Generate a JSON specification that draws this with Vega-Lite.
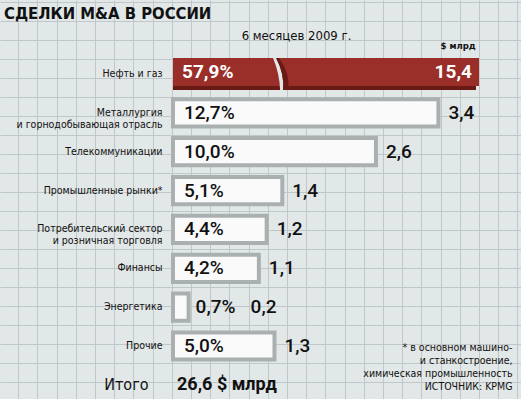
{
  "$schema": "https://vega.github.io/schema/vega-lite/v6.json",
  "width": 521,
  "height": 399,
  "autosize": {"type": "none"},
  "padding": 0,
  "background": "#e2e7e7",
  "title": {
    "text": "СДЕЛКИ M&A В РОССИИ",
    "anchor": "start",
    "frame": "group",
    "orient": "top",
    "offset": 0,
    "dx": 4,
    "dy": 35,
    "baseline": "alphabetic",
    "font": "DejaVu Sans Condensed, sans-serif",
    "fontSize": 16.5,
    "fontWeight": "bold",
    "color": "#111111"
  },
  "config": {
    "view": {"stroke": null},
    "locale": {"number": {"decimal": ",", "thousands": " ", "grouping": [3], "currency": ["", ""]}}
  },
  "datasets": {
    "sectors": [
      {"sector": "Нефть и газ", "pct": 0.579, "val": 15.4},
      {"sector": "Металлургия|и горнодобывающая отрасль", "pct": 0.127, "val": 3.4},
      {"sector": "Телекоммуникации", "pct": 0.100, "val": 2.6},
      {"sector": "Промышленные рынки*", "pct": 0.051, "val": 1.4},
      {"sector": "Потребительский сектор|и розничная торговля", "pct": 0.044, "val": 1.2},
      {"sector": "Финансы", "pct": 0.042, "val": 1.1},
      {"sector": "Энергетика", "pct": 0.007, "val": 0.2},
      {"sector": "Прочие", "pct": 0.050, "val": 1.3}
    ]
  },
  "layer": [
    {
      "data": {"values": [{"gx": 26, "gy": 5}]},
      "mark": {"type": "point", "opacity": 0, "filled": true, "size": 4},
      "encoding": {
        "x": {
          "field": "gx", "type": "quantitative",
          "scale": {"domain": [0.052, 27.187], "nice": false, "zero": false},
          "axis": {
            "orient": "top", "values": [1,2,3,4,5,6,7,8,9,10,11,12,13,14,15,16,17,18,19,20,21,22,23,24,25,26,27],
            "grid": true, "gridColor": "#c0c7ca", "gridWidth": 1, "gridOpacity": 1, "labels": false, "domain": false,
            "ticks": false,
            "title": "6 месяцев 2009 г.", "titleX": 296, "titleY": 39, "titleAlign": "center", "titleBaseline": "alphabetic",
            "titleFont": "DejaVu Sans Condensed, sans-serif", "titleFontSize": 13, "titleFontWeight": "normal", "titleColor": "#111111"
          }
        },
        "y": {
          "field": "gy", "type": "quantitative",
          "scale": {"domain": [-0.105, 20.895], "nice": false, "zero": false, "reverse": true},
          "axis": {
            "orient": "right", "values": [0,1,2,3,4,5,6,7,8,9,10,11,12,13,14,15,16,17,18,19,20],
            "grid": true, "gridColor": "#c0c7ca", "gridWidth": 1, "gridOpacity": 1, "labels": false, "domain": false,
            "ticks": false,
            "title": ["* в основном машино-", "и станкостроение,", "химическая промышленность", "ИСТОЧНИК: KPMG"],
            "titleAngle": 0, "titleX": -9, "titleY": 350, "titleAlign": "right", "titleBaseline": "alphabetic", "titleLineHeight": 13.3,
            "titleFont": "DejaVu Sans Condensed, sans-serif", "titleFontSize": 10.5, "titleFontWeight": "normal", "titleColor": "#111111"
          }
        }
      }
    },
    {
      "data": {"name": "sectors"},
      "encoding": {
        "y": {
          "field": "sector", "type": "nominal", "sort": null,
          "scale": {
            "domain": ["Нефть и газ", "Металлургия|и горнодобывающая отрасль", "Телекоммуникации", "Промышленные рынки*", "Потребительский сектор|и розничная торговля", "Финансы", "Энергетика", "Прочие", "Итого"],
            "range": [54.57, 404.3], "paddingInner": 0.3, "paddingOuter": 0.15
          },
          "axis": {
            "orient": "left", "offset": -165, "domain": false, "ticks": false, "grid": false,
            "labelPadding": {"condition": {"test": "datum.value === 'Итого'", "value": 17}, "value": 3},
            "labelExpr": "split(datum.value, '|')",
            "labelFont": "DejaVu Sans Condensed, sans-serif",
            "labelFontSize": {"condition": {"test": "datum.value === 'Итого'", "value": 16}, "value": 10.5},
            "labelColor": "#111111", "labelLineHeight": 12, "labelBaseline": "middle", "labelAlign": "right", "labelLimit": 0,
            "title": "$ млрд", "titleAngle": 0, "titleX": 275, "titleY": 48, "titleAlign": "left", "titleBaseline": "alphabetic",
            "titleFont": "DejaVu Sans Condensed, sans-serif", "titleFontSize": 9.5, "titleFontWeight": "bold", "titleColor": "#111111"
          }
        }
      },
      "layer": [
        {
          "transform": [{"filter": "datum.val <= 5"}],
          "mark": {"type": "bar", "fill": "#fafafa", "stroke": "#aab0b0", "strokeWidth": 4},
          "encoding": {
            "x": {
              "field": "val", "type": "quantitative", "stack": null,
              "scale": {"domain": [0, 3.92], "range": [173, 479], "clamp": true, "nice": false, "zero": true},
              "axis": null
            }
          }
        },
        {
          "transform": [{"filter": "datum.val > 5"}],
          "mark": {"type": "bar", "fill": "#6a1a14", "height": 28, "yOffset": 2, "xOffset": -3, "x2Offset": -3},
          "encoding": {
            "x": {"field": "val", "type": "quantitative", "stack": null, "axis": null}
          }
        },
        {
          "transform": [{"filter": "datum.val > 5"}],
          "mark": {"type": "bar", "fill": "#9a2e28", "height": 28, "yOffset": -2},
          "encoding": {
            "x": {"field": "val", "type": "quantitative", "stack": null, "axis": null}
          }
        },
        {
          "transform": [{"filter": "datum.val > 5"}],
          "mark": {"type": "point", "shape": "M -0.44 -1 L -0.25 -1 Q 0.28 0 0.1875 1 L 0.0 1 Q -0.03 0 -0.44 -1 Z", "size": 1024, "filled": true, "fill": "#e2e7e7", "opacity": 1, "strokeWidth": 0},
          "encoding": {
            "x": {"datum": 1.372, "type": "quantitative", "axis": null}
          }
        },
        {
          "transform": [{"filter": "datum.val > 5"}],
          "mark": {"type": "point", "shape": "M -0.25 -1 L -0.0625 -1 Q 0.656 0 0.5 1 L 0.1875 1 Q 0.28 0 -0.25 -1 Z", "size": 1024, "filled": true, "fill": "#6a1a14", "opacity": 1, "strokeWidth": 0},
          "encoding": {
            "x": {"datum": 1.372, "type": "quantitative", "axis": null}
          }
        },
        {
          "transform": [{"filter": "datum.val >= 0.5 && datum.val <= 5"}],
          "mark": {"type": "text", "align": "left", "baseline": "middle", "dx": 11, "font": "Roboto, Liberation Sans, sans-serif", "fontSize": 19, "fontWeight": 500, "color": "#111111"},
          "encoding": {
            "x": {"datum": 0, "type": "quantitative", "axis": null},
            "text": {"field": "pct", "type": "quantitative", "format": ".1%"}
          }
        },
        {
          "transform": [{"filter": "datum.val > 5"}],
          "mark": {"type": "text", "align": "left", "baseline": "middle", "dx": 9, "dy": -2, "font": "Roboto, Liberation Sans, sans-serif", "fontSize": 19, "fontWeight": "bold", "color": "#ffffff"},
          "encoding": {
            "x": {"datum": 0, "type": "quantitative", "axis": null},
            "text": {"field": "pct", "type": "quantitative", "format": ".1%"}
          }
        },
        {
          "transform": [{"filter": "datum.val >= 0.5 && datum.val <= 5"}],
          "mark": {"type": "text", "align": "left", "baseline": "middle", "dx": 10, "font": "Roboto, Liberation Sans, sans-serif", "fontSize": 19, "fontWeight": 500, "color": "#111111"},
          "encoding": {
            "x": {"field": "val", "type": "quantitative", "axis": null},
            "text": {"field": "val", "type": "quantitative", "format": ".1f"}
          }
        },
        {
          "transform": [{"filter": "datum.val > 5"}],
          "mark": {"type": "text", "align": "right", "baseline": "middle", "dx": -7, "dy": -2, "font": "Roboto, Liberation Sans, sans-serif", "fontSize": 19, "fontWeight": "bold", "color": "#ffffff"},
          "encoding": {
            "x": {"field": "val", "type": "quantitative", "axis": null},
            "text": {"field": "val", "type": "quantitative", "format": ".1f"}
          }
        },
        {
          "transform": [{"filter": "datum.val < 0.5"}],
          "mark": {"type": "text", "align": "left", "baseline": "middle", "dx": 7, "font": "Roboto, Liberation Sans, sans-serif", "fontSize": 19, "fontWeight": 500, "color": "#111111"},
          "encoding": {
            "x": {"field": "val", "type": "quantitative", "axis": null},
            "text": {"field": "pct", "type": "quantitative", "format": ".1%"}
          }
        },
        {
          "transform": [{"filter": "datum.val < 0.5"}],
          "mark": {"type": "text", "align": "left", "baseline": "middle", "dx": 62, "font": "Roboto, Liberation Sans, sans-serif", "fontSize": 19, "fontWeight": 500, "color": "#111111"},
          "encoding": {
            "x": {"field": "val", "type": "quantitative", "axis": null},
            "text": {"field": "val", "type": "quantitative", "format": ".1f"}
          }
        },
        {
          "data": {"values": [{"sector": "Итого", "label": "26,6 $ млрд"}]},
          "mark": {"type": "text", "align": "left", "baseline": "middle", "dx": 4, "font": "Roboto, Liberation Sans, sans-serif", "fontSize": 18, "fontWeight": "bold", "color": "#111111"},
          "encoding": {
            "x": {"datum": 0, "type": "quantitative", "axis": null},
            "text": {"field": "label", "type": "nominal"}
          }
        }
      ]
    }
  ],
  "resolve": {"scale": {"x": "independent", "y": "independent"}, "axis": {"x": "independent", "y": "independent"}}
}
